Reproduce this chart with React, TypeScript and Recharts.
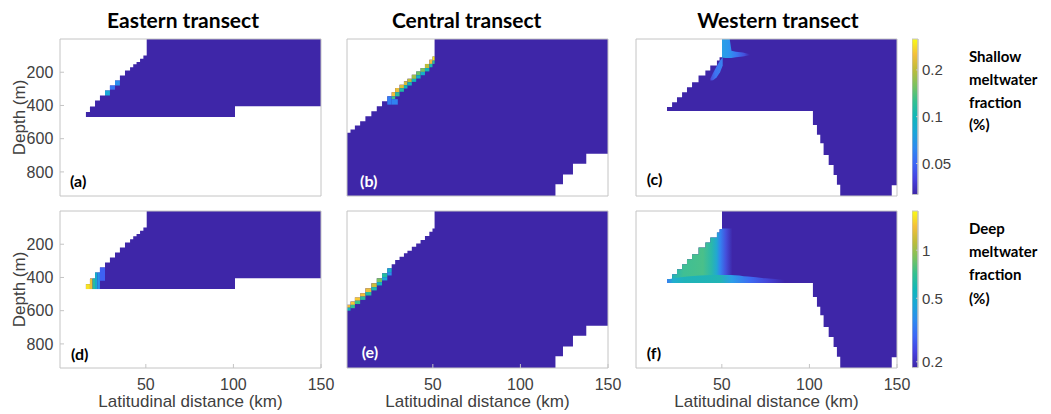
import { Area, ComposedChart, ReferenceArea, XAxis, YAxis } from "recharts";

// axes
const X_TICKS = [50, 100, 150];
const DEPTH_TICKS = [200, 400, 600, 800];
const SHALLOW_TICKS = [0.05, 0.1, 0.2];
const DEEP_TICKS = [0.2, 0.5, 1];
const SHALLOW_RANGE: [number, number] = [0.0316, 0.316];
const DEEP_RANGE: [number, number] = [0.184, 1.76];
const TITLES = ["Eastern transect", "Central transect", "Western transect"];
const SHALLOW_LABEL = ["Shallow", "meltwater", "fraction", "(%)"];
const DEEP_LABEL = ["Deep", "meltwater", "fraction", "(%)"];

// wet domain of each transect: distance (km), top and bottom depth (m)
const EAST_X = [15.8, 18.1, 21.0, 23.8, 26.7, 29.5, 32.4, 35.2, 38.1, 41.0, 42.8, 44.7, 46.7, 48.6, 50.5, 100.9, 150];
const EAST_TOP = [440, 406, 370, 340, 310, 280, 250, 220, 190, 170, 152, 139, 119, 99, 0, 0, 0];
const EAST_BOTTOM = [470, 470, 470, 470, 470, 470, 470, 470, 470, 470, 470, 470, 470, 470, 470, 405, 405];

const CENTRAL_X = [1, 3, 5.5, 8.5, 11.5, 14.9, 18, 21, 24, 26.5, 28.5, 31, 33.5, 35.5, 38, 40.5, 43, 45.5, 48, 49.8, 51, 120, 124.3, 130, 137.6, 150];
const CENTRAL_TOP = [565, 545, 520, 495, 465, 435, 405, 375, 345, 320, 295, 275, 255, 240, 215, 195, 175, 150, 125, 105, 0, 0, 0, 0, 0, 0];
const CENTRAL_BOTTOM = [945, 945, 945, 945, 945, 945, 945, 945, 945, 945, 945, 945, 945, 945, 945, 945, 945, 945, 945, 945, 945, 875, 815, 751, 691, 691];

const WEST_X = [18.7, 21.6, 24.4, 27.3, 30.1, 33.0, 36.7, 40.6, 43.4, 47.2, 48.7, 50.1, 102.0, 104.3, 106.2, 108.1, 111.0, 113.8, 115.7, 117.6, 147.0, 150];
const WEST_TOP = [410, 380, 350, 320, 290, 260, 219, 189, 159, 129, 110, 0, 0, 0, 0, 0, 0, 0, 0, 0, 0, 0];
const WEST_BOTTOM = [433, 433, 433, 433, 433, 433, 433, 433, 433, 433, 433, 433, 517, 577, 627, 698, 758, 818, 878, 945, 880, 880];

// meltwater cells: [x0, x1, depth0, depth1, fraction %]
type Cell = [number, number, number, number, number];
const EAST_SHALLOW_CELLS: Cell[] = [
  [26.7, 29.5, 310, 340, 0.08],
  [29.5, 32.4, 280, 305, 0.055],
  [32.4, 35.2, 250, 280, 0.065],
];
const EAST_DEEP_CELLS: Cell[] = [
  [15.8, 18.1, 440, 470, 1.6],
  [18.1, 19.6, 406, 470, 1.35],
  [19.6, 21.0, 406, 470, 0.65],
  [21.0, 22.4, 370, 470, 0.5],
  [22.4, 23.8, 370, 470, 0.38],
  [23.8, 26.7, 340, 420, 0.28],
];
const CENTRAL_SHALLOW_CELLS: Cell[] = [
  [24, 26.5, 345, 395, 0.058],
  [26.5, 28.5, 320, 345, 0.25],
  [26.5, 28.5, 345, 362, 0.13],
  [26.5, 30, 362, 395, 0.06],
  [28.5, 31, 295, 320, 0.24],
  [28.5, 31, 320, 345, 0.12],
  [31, 33.5, 275, 297, 0.23],
  [31, 33.5, 297, 318, 0.11],
  [33.5, 35.5, 255, 278, 0.22],
  [33.5, 35.5, 278, 298, 0.1],
  [35.5, 38, 240, 260, 0.2],
  [35.5, 38, 260, 280, 0.1],
  [38, 40.5, 215, 240, 0.18],
  [38, 40.5, 240, 258, 0.1],
  [40.5, 43, 195, 218, 0.15],
  [40.5, 43, 218, 238, 0.09],
  [43, 45.5, 175, 198, 0.16],
  [43, 45.5, 198, 218, 0.09],
  [45.5, 48, 150, 175, 0.2],
  [45.5, 48, 175, 195, 0.1],
  [48, 49.8, 125, 150, 0.25],
  [48, 49.8, 150, 170, 0.11],
  [49.8, 51, 105, 130, 0.3],
  [49.8, 51, 130, 150, 0.12],
];
const CENTRAL_DEEP_CELLS: Cell[] = [
  [1, 3, 565, 582, 1.35],
  [1, 3, 582, 600, 0.55],
  [3, 5.5, 545, 565, 1.45],
  [3, 5.5, 565, 585, 0.7],
  [5.5, 8.5, 520, 540, 1.45],
  [5.5, 8.5, 540, 560, 0.72],
  [8.5, 11.5, 495, 515, 1.4],
  [8.5, 11.5, 515, 535, 0.68],
  [11.5, 14.9, 465, 488, 1.35],
  [11.5, 14.9, 488, 508, 0.65],
  [14.9, 18, 435, 458, 1.2],
  [14.9, 18, 458, 478, 0.62],
  [18, 21, 405, 428, 0.9],
  [18, 21, 428, 448, 0.55],
  [21, 24, 375, 398, 0.65],
  [21, 24, 398, 418, 0.45],
  [24, 26.5, 345, 368, 0.5],
  [24, 26.5, 368, 388, 0.38],
];

// western plumes
const W_STEM_X = [50.1, 52, 54.5, 55.5, 58, 62, 66];
const W_STEM_TOP = [0, 0, 0, 70, 76, 82, 92];
const W_STEM_BOTTOM = [112, 114, 114, 114, 110, 105, 98];
const W_DIAG_X = [43.5, 45, 47, 49, 50.5];
const W_DIAG_TOP = [238, 205, 165, 130, 110];
const W_DIAG_BOTTOM = [250, 248, 232, 200, 160];
const F_WEDGE_X = [18.7, 21.6, 24.4, 27.3, 30.1, 33.0, 36.7, 40.6, 43.4, 47.2, 48.7, 50.1, 56];
const F_WEDGE_TOP = [410, 380, 350, 320, 290, 260, 219, 189, 159, 129, 110, 106, 106];
const F_WEDGE_BOTTOM = [433, 433, 433, 433, 433, 433, 433, 433, 433, 433, 433, 433, 433];
const F_TONGUE_X = [18.7, 30, 45, 55, 65, 75, 86];
const F_TONGUE_TOP = [412, 395, 385, 385, 395, 405, 415];
const F_TONGUE_BOTTOM = [433, 433, 433, 433, 433, 433, 433];

const PARULA = ["#3e26a8", "#4640e0", "#3d66f6", "#2d8af0", "#1aa6d8", "#10b7b9", "#34c08f", "#79c25f", "#bcbc3a", "#f4bf3a", "#f9fb15"];
const FRAME = "#c4c4c4";
const INK = "#404040";
const TICK_STYLE = { fontSize: 16, fill: INK };

const hex = (h: string) => [1, 3, 5].map((i) => parseInt(h.slice(i, i + 2), 16));
function parula(v: number, [lo, hi]: [number, number]) {
  const t = Math.min(1, Math.max(0, Math.log(v / lo) / Math.log(hi / lo))) * (PARULA.length - 1);
  const i = Math.min(PARULA.length - 2, Math.floor(t));
  const a = hex(PARULA[i]);
  const b = hex(PARULA[i + 1]);
  return `rgb(${a.map((c, k) => Math.round(c + (b[k] - c) * (t - i))).join(",")})`;
}

type Geo = { xs: number[]; top: number[]; bottom: number[] };
type Band = Geo & { key: string; curve: "stepAfter" | "linear" | "monotone"; stops: [string, string][] };

function buildRows(geo: Geo, bands: Band[]) {
  const map = new Map<number, Record<string, number | number[]>>();
  const put = (x: number, key: string, v: number[]) => {
    const row = map.get(x) ?? { x };
    row[key] = v;
    map.set(x, row);
  };
  geo.xs.forEach((x, i) => put(x, "geo", [geo.top[i], geo.bottom[i]]));
  bands.forEach((b) => b.xs.forEach((x, i) => put(x, b.key, [b.top[i], b.bottom[i]])));
  return [...map.values()].sort((a, b) => (a.x as number) - (b.x as number));
}

const EAST: Geo = { xs: EAST_X, top: EAST_TOP, bottom: EAST_BOTTOM };
const CENTRAL: Geo = { xs: CENTRAL_X, top: CENTRAL_TOP, bottom: CENTRAL_BOTTOM };
const WEST: Geo = { xs: WEST_X, top: WEST_TOP, bottom: WEST_BOTTOM };

const SHALLOW_PLUME: Band[] = [
  { key: "diag", xs: W_DIAG_X, top: W_DIAG_TOP, bottom: W_DIAG_BOTTOM, curve: "linear", stops: [["0", "#4a4ad8"], ["0.4", "#3d74f2"], ["1", "#3a82f0"]] },
  { key: "stem", xs: W_STEM_X, top: W_STEM_TOP, bottom: W_STEM_BOTTOM, curve: "linear", stops: [["0", "#2aa0e6"], ["0.25", "#2c96ee"], ["0.5", "#3a78f2"], ["0.8", "#4450dc"], ["1", "#3e26a8"]] },
];
const DEEP_PLUME: Band[] = [
  {
    key: "wedge", xs: F_WEDGE_X, top: F_WEDGE_TOP, bottom: F_WEDGE_BOTTOM, curve: "stepAfter",
    stops: [["0", "#2f9fe0"], ["0.08", "#22b3b8"], ["0.25", "#3fbf94"], ["0.55", "#4ac08a"], ["0.68", "#2bb8aa"], ["0.76", "#22a8d0"], ["0.82", "#3580f0"], ["0.9", "#4450dc"], ["1", "#3e26a8"]],
  },
  {
    key: "tongue", xs: F_TONGUE_X, top: F_TONGUE_TOP, bottom: F_TONGUE_BOTTOM, curve: "monotone",
    stops: [["0", "#3b7cf0"], ["0.05", "#21aed0"], ["0.15", "#1fb3b8"], ["0.45", "#22b4b4"], ["0.55", "#2b9ee8"], ["0.7", "#3d6cf2"], ["0.85", "#4545d8"], ["1", "#3e26a8"]],
  },
];

type PanelProps = {
  id: string;
  left: number;
  top: number;
  geo: Geo;
  bands?: Band[];
  cells: Cell[];
  range: [number, number];
  showDepth: boolean;
  showDistance: boolean;
};

function Panel({ id, left, top, geo, bands = [], cells, range, showDepth, showDistance }: PanelProps) {
  const rows = buildRows(geo, bands);
  return (
    <div style={{ position: "absolute", left: left - 60, top: top - 5 }}>
      <ComposedChart width={346} height={207} data={rows} margin={{ top: 4, right: 24, left: 0, bottom: 0 }}>
        <defs>
          {bands.map((b) => (
            <linearGradient key={b.key} id={`${id}-${b.key}`} x1="0" y1="0" x2="1" y2="0">
              {b.stops.map(([o, c]) => (
                <stop key={o} offset={o} stopColor={c} />
              ))}
            </linearGradient>
          ))}
        </defs>
        <XAxis
          dataKey="x" type="number" domain={[1, 150]} allowDataOverflow ticks={X_TICKS} height={45} interval={0}
          tickSize={-4} tickMargin={14.5} axisLine={{ stroke: FRAME }} tickLine={{ stroke: FRAME }}
          tick={showDistance ? TICK_STYLE : false}
          label={showDistance ? { value: "Latitudinal distance (km)", position: "insideBottom", offset: 6, fontSize: 17, fill: INK } : undefined}
        />
        <XAxis
          xAxisId="top" orientation="top" dataKey="x" type="number" domain={[1, 150]} allowDataOverflow ticks={[50, 100]}
          height={1} tickSize={-4} tick={false} axisLine={{ stroke: FRAME }} tickLine={{ stroke: FRAME }}
        />
        <YAxis
          type="number" domain={[0, 945]} reversed allowDataOverflow ticks={DEPTH_TICKS} width={60} interval={0}
          tickSize={-4} tickMargin={10.7} axisLine={{ stroke: FRAME }} tickLine={{ stroke: FRAME }}
          tick={showDepth ? TICK_STYLE : false}
          label={showDepth ? { value: "Depth (m)", angle: -90, position: "insideLeft", offset: 19, fontSize: 17, fill: INK, style: { textAnchor: "middle" } } : undefined}
        />
        <YAxis
          yAxisId="right" orientation="right" type="number" domain={[0, 945]} reversed allowDataOverflow ticks={DEPTH_TICKS}
          width={1} tickSize={-4} tick={false} axisLine={{ stroke: FRAME }} tickLine={{ stroke: FRAME }}
        />
        <Area dataKey="geo" type="stepAfter" stroke="none" fill={PARULA[0]} fillOpacity={1} connectNulls isAnimationActive={false} />
        {bands.map((b) => (
          <Area key={b.key} dataKey={b.key} type={b.curve} stroke="none" fill={`url(#${id}-${b.key})`} fillOpacity={1} connectNulls isAnimationActive={false} />
        ))}
        {cells.map(([x0, x1, d0, d1, v], i) => (
          <ReferenceArea key={i} x1={x0} x2={x1} y1={d0} y2={d1} fill={parula(v, range)} fillOpacity={1} stroke="none" ifOverflow="hidden" />
        ))}
      </ComposedChart>
    </div>
  );
}

function ColorBar({ id, top, height, range, ticks }: { id: string; top: number; height: number; range: [number, number]; ticks: number[] }) {
  const stops = [...PARULA].reverse();
  return (
    <div style={{ position: "absolute", left: 912, top: top - 10 }}>
      <ComposedChart width={46} height={height + 20} data={[{ x: 0 }, { x: 1 }]} margin={{ top: 10, right: 0, left: 0, bottom: 10 }}>
        <defs>
          <linearGradient id={id} x1="0" y1="0" x2="0" y2="1">
            {stops.map((c, i) => (
              <stop key={c} offset={i / (stops.length - 1)} stopColor={c} />
            ))}
          </linearGradient>
        </defs>
        <XAxis dataKey="x" type="number" domain={[0, 1]} hide />
        <YAxis
          orientation="right" type="number" scale="log" domain={range} allowDataOverflow ticks={ticks} width={40} interval={0}
          tickSize={-2} tickMargin={6} axisLine={{ stroke: FRAME }} tickLine={{ stroke: FRAME }}
          tick={{ fontSize: 15, fill: INK }}
        />
        <ReferenceArea x1={0} x2={1} y1={range[0]} y2={range[1]} fill={`url(#${id})`} fillOpacity={1} stroke={FRAME} ifOverflow="extendDomain" />
      </ComposedChart>
    </div>
  );
}

const bold = { position: "absolute" as const, fontFamily: "Lato, 'Open Sans', sans-serif", fontWeight: 700, color: "#000", whiteSpace: "nowrap" as const };

function Letter({ text, left, top, color }: { text: string; left: number; top: number; color: string }) {
  return <div style={{ ...bold, left, top: top - 10, lineHeight: "20px", fontSize: 16, color }}>{text}</div>;
}

export default function App() {
  return (
    <div style={{ position: "absolute", left: 0, top: 0, width: 1051, height: 414, background: "#fff", overflow: "hidden", fontFamily: "'Liberation Sans', Arial, sans-serif" }}>
      {TITLES.map((t, i) => (
        <div key={t} style={{ ...bold, left: [183, 466.7, 778][i] - 150, width: 300, top: 8, lineHeight: "24px", fontSize: 21, textAlign: "center" }}>{t}</div>
      ))}
      <Panel id="pa" left={60} top={38.5} geo={EAST} cells={EAST_SHALLOW_CELLS} range={SHALLOW_RANGE} showDepth showDistance={false} />
      <Panel id="pb" left={347.3} top={38.5} geo={CENTRAL} cells={CENTRAL_SHALLOW_CELLS} range={SHALLOW_RANGE} showDepth={false} showDistance={false} />
      <Panel id="pc" left={635.7} top={38.5} geo={WEST} bands={SHALLOW_PLUME} cells={[]} range={SHALLOW_RANGE} showDepth={false} showDistance={false} />
      <Panel id="pd" left={60} top={210.5} geo={EAST} cells={EAST_DEEP_CELLS} range={DEEP_RANGE} showDepth showDistance />
      <Panel id="pe" left={347.3} top={210.5} geo={CENTRAL} cells={CENTRAL_DEEP_CELLS} range={DEEP_RANGE} showDepth={false} showDistance />
      <Panel id="pf" left={635.7} top={210.5} geo={WEST} bands={DEEP_PLUME} cells={[]} range={DEEP_RANGE} showDepth={false} showDistance />
      <ColorBar id="cbs" top={39} height={155.5} range={SHALLOW_RANGE} ticks={SHALLOW_TICKS} />
      <ColorBar id="cbd" top={210.7} height={156.6} range={DEEP_RANGE} ticks={DEEP_TICKS} />
      <div style={{ ...bold, left: 969, top: 45.3, lineHeight: "22.7px", fontSize: 15 }}>
        {SHALLOW_LABEL.map((l) => <div key={l}>{l}</div>)}
      </div>
      <div style={{ ...bold, left: 969, top: 216.8, lineHeight: "23.3px", fontSize: 15 }}>
        {DEEP_LABEL.map((l) => <div key={l}>{l}</div>)}
      </div>
      <Letter text="(a)" left={70} top={181} color="#000" />
      <Letter text="(b)" left={360} top={181} color="#fff" />
      <Letter text="(c)" left={646.7} top={179} color="#000" />
      <Letter text="(d)" left={71} top={354} color="#000" />
      <Letter text="(e)" left={361.7} top={352} color="#fff" />
      <Letter text="(f)" left={646.7} top={353} color="#000" />
    </div>
  );
}
